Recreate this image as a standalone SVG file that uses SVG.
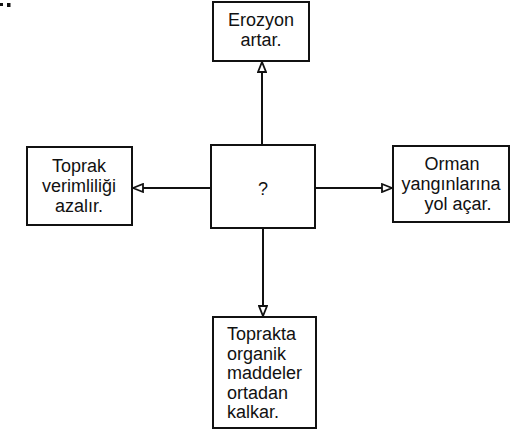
<svg xmlns="http://www.w3.org/2000/svg" width="512" height="430" viewBox="0 0 512 430">
<style>
.box{fill:#fff;stroke:#111;stroke-width:2}
.t{font-family:"Liberation Sans",Arial,sans-serif;font-size:18px;fill:#111}
.c{text-anchor:middle}
.ln{stroke:#111;stroke-width:2;fill:none}
</style>
<defs>
<marker id="ah" viewBox="0 0 12 10" refX="11" refY="5" markerWidth="12" markerHeight="10" markerUnits="userSpaceOnUse" orient="auto">
<path d="M1,1 L11,5 L1,9 Z" fill="#fff" stroke="#111" stroke-width="1.8"/>
</marker>
</defs>
<rect x="0" y="3" width="3" height="3" fill="#111"/>
<rect x="7" y="3" width="3.5" height="4" fill="#111"/>
<g id="connectors">
<line class="ln" x1="262" y1="145" x2="262" y2="62" marker-end="url(#ah)"/>
<line class="ln" x1="211" y1="188" x2="133" y2="188" marker-end="url(#ah)"/>
<line class="ln" x1="315" y1="188" x2="392" y2="188" marker-end="url(#ah)"/>
<line class="ln" x1="263" y1="228" x2="263" y2="316" marker-end="url(#ah)"/>
</g>
<g id="center">
<rect class="box" x="211" y="145" width="104" height="83"/>
<text class="t c" x="263" y="195" font-size="21">?</text>
</g>
<g id="top">
<rect class="box" x="213" y="2" width="96" height="59"/>
<text class="t c" x="261" y="26">Erozyon</text>
<text class="t c" x="261" y="46">artar.</text>
</g>
<g id="left">
<rect class="box" x="27" y="147" width="105" height="78"/>
<text class="t c" x="79" y="172">Toprak</text>
<text class="t c" x="79" y="192">verimliliği</text>
<text class="t c" x="79" y="212">azalır.</text>
</g>
<g id="right">
<rect class="box" x="393" y="146" width="116" height="76"/>
<text class="t c" x="452" y="170">Orman</text>
<text class="t c" x="451" y="190">yangınlarına</text>
<text class="t c" x="458" y="210">yol açar.</text>
</g>
<g id="bottom">
<rect class="box" x="213" y="317" width="103" height="111"/>
<text class="t" x="227" y="340">Toprakta</text>
<text class="t" x="227" y="359.5">organik</text>
<text class="t" x="227" y="379">maddeler</text>
<text class="t" x="227" y="398.5">ortadan</text>
<text class="t" x="227" y="418">kalkar.</text>
</g>
</svg>
